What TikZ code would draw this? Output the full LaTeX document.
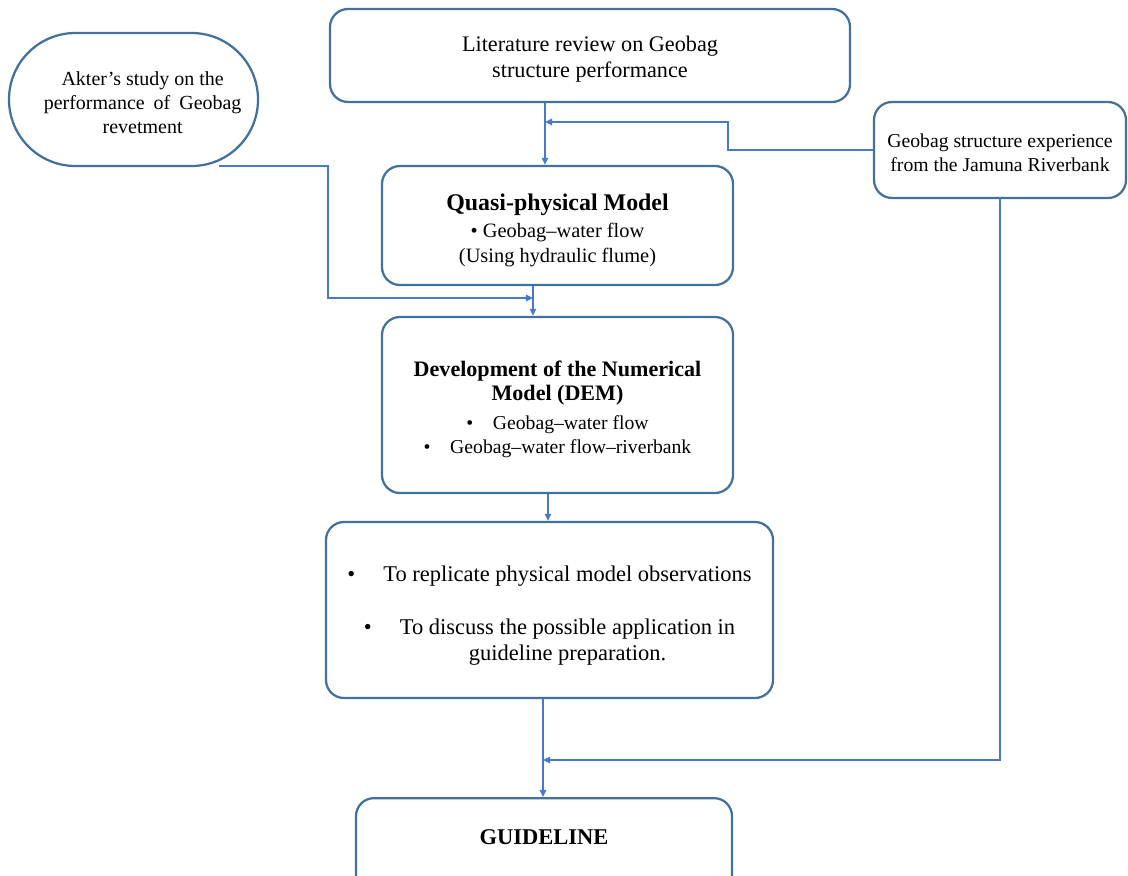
\documentclass[tikz,border=0pt]{standalone}
\usepackage{fontspec}
\setmainfont{Liberation Serif}
\usetikzlibrary{arrows.meta}
\definecolor{boxc}{HTML}{41719C}
\definecolor{linec}{HTML}{4A78D0}
\newcommand\tpad[1]{\rule{0pt}{#1}}
\newcommand\ind{\hspace*{13pt}}
\begin{document}
\begin{tikzpicture}[x=0.025cm,y=-0.025cm,
  box/.style={draw=boxc,line width=1.6pt,rounded corners=0.45cm,align=center,inner sep=0pt},
  conn/.style={draw=linec,line width=1.1pt},
  arr/.style={conn,-{Triangle[length=5pt,width=4.5pt]}}]
\useasboundingbox (0,0) rectangle (1128,875);
\clip (0,0) rectangle (1128,875);
\fill[white] (0,0) rectangle (1128,875);
% boxes
\node[box,font=\fontsize{15.8}{18.5}\selectfont,minimum width=520*0.025cm,minimum height=93*0.025cm] (lit) at (590,55.5)
  {\tpad{16.6pt}Literature review on Geobag\\structure performance};
\node[box,font=\fontsize{14.2}{17}\selectfont,rounded corners=1.66cm,minimum width=249*0.025cm,minimum height=133*0.025cm] (akter) at (133.5,99.5)
  {\ind\tpad{14.1pt}Akter's study on the\\\ind performance\hspace{0.45em}of\hspace{0.45em}Geobag\\\ind revetment};
\node[box,font=\fontsize{14}{17}\selectfont,minimum width=252*0.025cm,minimum height=96*0.025cm] (exp) at (1000,150)
  {\tpad{14pt}Geobag structure experience\\from the Jamuna Riverbank};
\node[box,font=\fontsize{14.5}{17.5}\selectfont,minimum width=351*0.025cm,minimum height=119*0.025cm] (quasi) at (557.5,225.5)
  {{\fontsize{17}{20}\selectfont\bfseries\tpad{18.1pt}Quasi-physical Model}\\[2pt]
   \textbullet\ Geobag--water flow\\(Using hydraulic flume)};
\node[box,font=\fontsize{14}{17}\selectfont,minimum width=351*0.025cm,minimum height=176*0.025cm] (dev) at (557.5,405)
  {{\fontsize{15.7}{17}\selectfont\bfseries\tpad{17.2pt}Development of the Numerical}\\
   {\fontsize{15.7}{17}\selectfont\bfseries Model (DEM)}\\[3.5pt]
   \textbullet\quad Geobag--water flow\\
   \textbullet\quad Geobag--water flow--riverbank};
\node[box,font=\fontsize{16}{18.5}\selectfont,minimum width=447*0.025cm,minimum height=176*0.025cm] (rep) at (549.5,610)
  {\tpad{19.4pt}\textbullet\quad\ To replicate physical model observations\\[19.2pt]
   \textbullet\quad\ To discuss the possible application in\\
   \hspace*{1.6em}guideline preparation.};
\node[box,anchor=north,minimum width=376*0.025cm,minimum height=130*0.025cm] (guide) at (544,797) {};
\node[font=\fontsize{16}{19}\selectfont\bfseries,inner sep=0pt] (guidelbl) at (544,837) {GUIDELINE};
% junction coordinates
\coordinate (jA) at (545,122);
\coordinate (jB) at (728,150);
\coordinate (jC) at (328,166);
\coordinate (jD) at (533,298);
\coordinate (jE) at (548,500);
\coordinate (jF) at (543,760);
\coordinate (jG) at (219,166);
% connectors
\draw[arr] (lit.south -| jA) -- (quasi.north -| jA);
\draw[arr] (exp.west) -- (jB) |- (jA);
\draw[arr] (jG) -- (jC) |- (jD);
\draw[arr] (quasi.south -| jD) -- (dev.north -| jD);
\draw[arr] (dev.south -| jE) -- (rep.north -| jE);
\draw[arr] (rep.south -| jF) -- (guide.north -| jF);
\draw[arr] (exp.south) |- (jF);
\end{tikzpicture}
\end{document}
